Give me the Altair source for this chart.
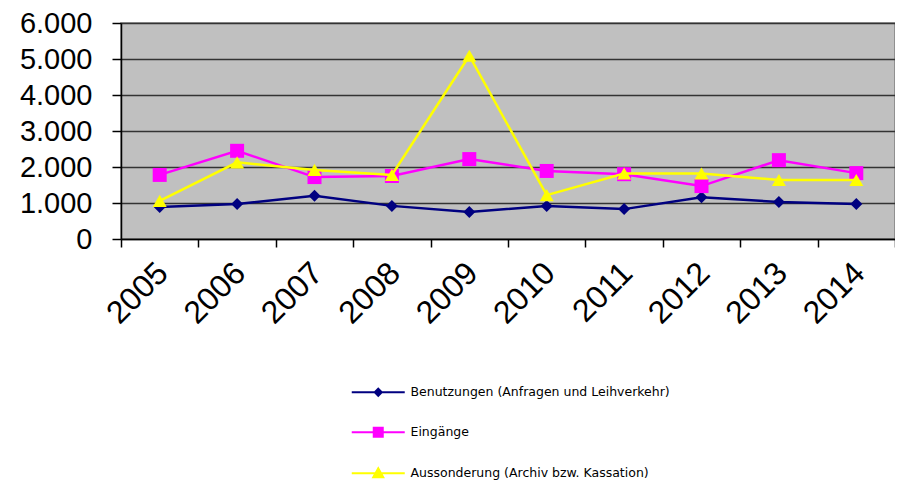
import altair as alt
import pandas as pd

years = ["2005", "2006", "2007", "2008", "2009", "2010", "2011", "2012", "2013", "2014"]
series_names = [
    "Benutzungen (Anfragen und Leihverkehr)",
    "Eingänge",
    "Aussonderung (Archiv bzw. Kassation)",
]
benutzungen = [890, 970, 1200, 920, 750, 920, 830, 1160, 1030, 970]
eingaenge = [1780, 2450, 1720, 1750, 2220, 1890, 1800, 1470, 2190, 1830]
aussonderung = [1060, 2130, 1920, 1780, 5090, 1220, 1820, 1820, 1640, 1640]
y_ticks = [0, 1000, 2000, 3000, 4000, 5000, 6000]

colors = ["#000080", "#FF00FF", "#FFFF00"]
shapes = ["diamond", "square", "triangle-up"]
marker_sizes = [144, 196, 196]
legend_paths = [
    "M-5.3,0H5.3M0,-0.7L0.7,0L0,0.7L-0.7,0Z",
    "M-5.3,0H5.3M-0.9,-0.9H0.9V0.9H-0.9Z",
    "M-5.3,0H5.3M0,-1L1,0.8H-1Z",
]

rows = []
for k, (name, vals) in enumerate(zip(series_names, [benutzungen, eingaenge, aussonderung])):
    for yr, v in zip(years, vals):
        rows.append({"Jahr": yr, "Serie": name, "Wert": v, "k": k})
df = pd.DataFrame(rows)

FONT = "Liberation Sans"

x_enc = alt.X(
    "Jahr:N",
    sort=years,
    scale=alt.Scale(type="band", paddingInner=0, paddingOuter=0),
    bandPosition=0.5,
    axis=alt.Axis(
        title=None,
        tickBand="extent",
        labelAngle=-45,
        labelFont=FONT,
        labelFontSize=32,
        labelColor="#000000",
        labelPadding=10,
        labelOffset=-8,
        tickColor="#000000",
        tickSize=8,
        tickWidth=1.5,
        domainColor="#000000",
        domainWidth=1.5,
        grid=False,
    ),
)
y_enc = alt.Y(
    "Wert:Q",
    scale=alt.Scale(domain=[0, 6000], nice=False),
    axis=alt.Axis(
        title=None,
        values=y_ticks,
        labelExpr="replace(format(datum.value, ','), ',', '.')",
        labelFont=FONT,
        labelFontSize=29,
        labelColor="#000000",
        labelPadding=20,
        tickColor="#000000",
        tickSize=9,
        tickWidth=1.5,
        domainColor="#000000",
        domainWidth=1.5,
        grid=True,
        gridColor="#333333",
        gridWidth=1.7,
    ),
)

layers = []
for name, col, shp, sz in zip(series_names, colors, shapes, marker_sizes):
    base = alt.Chart(df).transform_filter(alt.datum.Serie == name)
    layers.append(base.mark_line(strokeWidth=2.5, color=col).encode(x=x_enc, y=y_enc))
    layers.append(base.mark_point(filled=True, opacity=1, shape=shp, size=sz, color=col).encode(
        x=x_enc, y=y_enc))

legend_props = dict(
    orient="none",
    legendX=251,
    legendY=363,
    direction="vertical",
    title=None,
    labelFont="DejaVu Sans",
    labelFontSize=12.5,
    labelColor="#000000",
    labelLimit=0,
    symbolSize=100,
    symbolStrokeWidth=2,
    symbolFillColor="#000000",
    symbolStrokeColor="#000000",
    symbolOpacity=1,
    rowPadding=23,
    labelOffset=26,
)

legend_layer = alt.Chart(df).transform_filter(alt.datum.Wert < 0).mark_point(
    filled=True, strokeWidth=2, opacity=1
).encode(
    x=x_enc,
    y=y_enc,
    color=alt.Color("Serie:N", sort=series_names,
                    scale=alt.Scale(domain=series_names, range=colors),
                    legend=alt.Legend(**legend_props)),
    stroke=alt.Stroke("Serie:N", sort=series_names,
                      scale=alt.Scale(domain=series_names, range=colors),
                      legend=alt.Legend(**legend_props)),
    shape=alt.Shape("Serie:N", sort=series_names,
                    scale=alt.Scale(domain=series_names, range=legend_paths),
                    legend=alt.Legend(**legend_props)),
)
layers.append(legend_layer)

chart = (
    alt.layer(*layers)
    .properties(
        width=774,
        height=216,
        padding={"left": 113, "top": 15, "right": 0, "bottom": 245},
        autosize=alt.AutoSizeParams(type="none"),
        background="#FFFFFF",
    )
    .configure_view(fill="#C0C0C0", stroke="#808080", strokeWidth=1.5)
)

chart.save("out.html", embed_options={"renderer": "svg", "actions": False})
